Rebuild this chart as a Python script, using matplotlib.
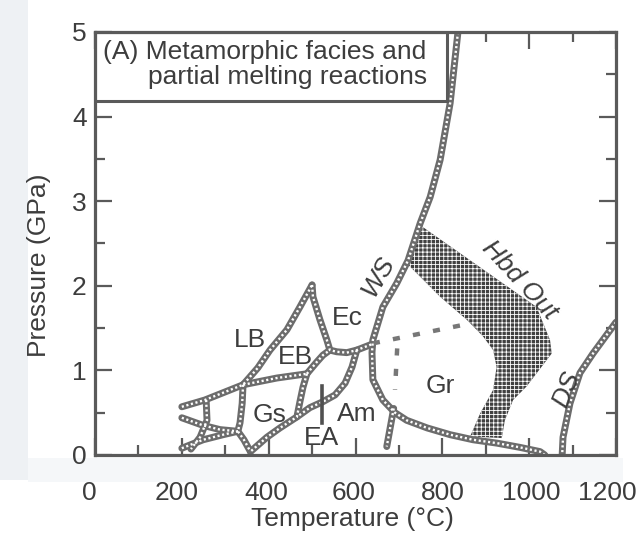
import numpy as np
import matplotlib
matplotlib.use('Agg')
import matplotlib.pyplot as plt
import matplotlib.transforms as mtransforms
from matplotlib.patches import Rectangle, Polygon

plt.rcParams['font.family'] = ['Liberation Sans', 'DejaVu Sans']

# reaction curves, temperature (°C) / pressure (GPa)
ws_t = [836, 818, 795, 772, 749, 721, 695, 663, 640, 638, 640, 663, 691, 718, 765, 818, 871, 926, 979, 1025, 1036]
ws_p = [5.0, 4.16, 3.49, 3.05, 2.74, 2.30, 2.03, 1.75, 1.36, 1.21, 0.89, 0.65, 0.50, 0.41, 0.32, 0.24, 0.18, 0.14, 0.09, 0.04, 0.0]

ws_tail_t = [688, 672]
ws_tail_p = [0.55, 0.10]

ds_t = [1200, 1147, 1117, 1094, 1078, 1076]
ds_p = [1.57, 1.20, 0.97, 0.61, 0.21, 0.0]

lb_t = [200, 253, 341, 375, 403, 442, 472, 500]
lb_p = [0.57, 0.65, 0.83, 1.03, 1.24, 1.48, 1.75, 2.01]

ec_t = [500, 502, 518, 534, 541, 557, 580, 603, 638]
ec_p = [2.01, 1.87, 1.60, 1.36, 1.24, 1.22, 1.21, 1.24, 1.31]

gs_top_t = [341, 419, 488]
gs_top_p = [0.83, 0.91, 0.96]

eb_t = [488, 511, 525, 541]
eb_p = [0.96, 1.10, 1.18, 1.24]

gs_right_t = [488, 479, 472, 465, 426, 396, 358]
gs_right_p = [0.96, 0.80, 0.63, 0.45, 0.32, 0.21, 0.04]

am_t = [603, 592, 576, 553, 525, 495, 465]
am_p = [1.24, 1.04, 0.85, 0.71, 0.63, 0.56, 0.45]

gs_left_t = [341, 339, 334, 329, 343, 358]
gs_left_p = [0.83, 0.61, 0.38, 0.28, 0.18, 0.04]

low1_t = [200, 249, 288, 329]
low1_p = [0.44, 0.35, 0.30, 0.28]

low2_t = [200, 249, 295, 329]
low2_p = [0.08, 0.18, 0.24, 0.28]

low3_t = [256, 258, 242, 221]
low3_p = [0.65, 0.41, 0.21, 0.07]

# dashed boundaries inside the granulite field
dash_h_t = [640, 869]
dash_h_p = [1.32, 1.56]
dash_v_t = [696, 691]
dash_v_p = [1.26, 0.77]

# epidote-amphibolite bar
ea_t = [523, 523]
ea_p = [0.38, 0.81]

# hornblende-out band
hbd_t = [748, 1017, 1048, 1052, 994, 963, 944, 937, 864, 887, 917, 925, 917, 894, 856, 795, 725, 714, 721]
hbd_p = [2.72, 1.75, 1.36, 1.20, 0.81, 0.65, 0.41, 0.20, 0.22, 0.49, 0.77, 1.04, 1.24, 1.40, 1.60, 1.87, 2.23, 2.30, 2.30]

facies = ['LB', 'Ec', 'EB', 'Gs', 'EA', 'Am', 'Gr']
facies_t = [357, 580, 461, 403, 522, 603, 795]
facies_p = [1.36, 1.62, 1.16, 0.47, 0.20, 0.49, 0.81]

ink = '#3d3d3d'
frame = '#5a5a5a'
fs = 19

fig = plt.figure(figsize=(6.41, 5.35), dpi=100)
# faint scanner tint
fig.add_artist(Rectangle((0, 1 - 480 / 535), 28 / 641, 480 / 535, transform=fig.transFigure,
                         facecolor='#eef1f4', edgecolor='none', zorder=0))
fig.add_artist(Rectangle((28 / 641, 1 - 482 / 535), 595 / 641, 24 / 535, transform=fig.transFigure,
                         facecolor='#f5f7f9', edgecolor='none', zorder=0))

ax = fig.add_axes([95 / 641, 1 - 455 / 535, 521 / 641, 423 / 535])
ax.set_xlim(0, 1200)
ax.set_ylim(0, 5)
ax.patch.set_alpha(0)


def reaction(t, p):
    ax.plot(t, p, color='#6c6c6c', lw=5.0, solid_capstyle='round', solid_joinstyle='round', zorder=2)
    ax.plot(t, p, color='white', lw=1.7, ls=(0, (0.9, 1.1)), zorder=2.1)


plt.rcParams['hatch.linewidth'] = 0.6
ax.add_patch(Polygon(np.column_stack([hbd_t, hbd_p]), closed=True, facecolor='#404040',
                     edgecolor='white', hatch='++++', lw=0, zorder=1.8))

for t, p in [(ws_t, ws_p), (ws_tail_t, ws_tail_p), (ds_t, ds_p), (lb_t, lb_p), (ec_t, ec_p),
             (gs_top_t, gs_top_p), (eb_t, eb_p), (gs_right_t, gs_right_p), (am_t, am_p),
             (gs_left_t, gs_left_p), (low1_t, low1_p), (low2_t, low2_p), (low3_t, low3_p)]:
    reaction(t, p)

for t, p in [(dash_h_t, dash_h_p), (dash_v_t, dash_v_p)]:
    ax.plot(t, p, color='#777777', lw=3.2, ls=(0, (1.6, 3.0)), zorder=2)

ax.plot(ea_t, ea_p, color='#505050', lw=2.6, zorder=3)

for name, t, p in zip(facies, facies_t, facies_p):
    ax.text(t, p, name, fontsize=fs, color=ink, ha='center', va='center', zorder=5)

ax.text(652, 2.11, 'WS', fontsize=fs, color=ink, style='italic', rotation=60,
        ha='center', va='center', zorder=5)
ax.text(979, 2.07, 'Hbd Out', fontsize=fs, color=ink, style='italic', rotation=-47,
        ha='center', va='center', zorder=5)
ax.text(1086, 0.77, 'DS', fontsize=fs, color=ink, style='italic', rotation=68,
        ha='center', va='center', zorder=5)

# title box in the upper left corner
ax.add_patch(Rectangle((0, 4.18), 811, 0.82, facecolor='white', edgecolor=frame, lw=2.2, zorder=4))
ax.text(18, 4.76, '(A) Metamorphic facies and', fontsize=fs, color=ink, va='center', zorder=5)
ax.text(122, 4.47, 'partial melting reactions', fontsize=fs, color=ink, va='center', zorder=5)

ax.set_xticks(np.arange(0, 1201, 200))
ax.set_xticks(np.arange(100, 1200, 200), minor=True)
ax.set_yticks(np.arange(0, 6, 1))
ax.set_yticks(np.arange(0.5, 5, 1), minor=True)
ax.tick_params(which='both', direction='in', top=True, right=True, color=frame, width=1.6,
               labelcolor=ink, labelsize=fs)
ax.tick_params(which='major', length=12)
ax.tick_params(which='minor', length=7.5)
ax.tick_params(axis='x', pad=19)
ax.tick_params(axis='y', pad=6)

# nudge the end labels so they sit inside the page
shifts = [-6, -5, -2, -2, 0, 2, -9]
for lab, dx in zip(ax.get_xticklabels(), shifts):
    lab.set_transform(lab.get_transform() + mtransforms.ScaledTranslation(dx / 100, 0, fig.dpi_scale_trans))

for s in ax.spines.values():
    s.set_color(frame)
    s.set_linewidth(2.3)
    s.set_zorder(6)

ax.set_xlabel('Temperature (°C)', fontsize=fs, color=ink)
ax.set_ylabel('Pressure (GPa)', fontsize=fs, color=ink)
ax.xaxis.set_label_coords(0.495, -0.122)
ax.yaxis.set_label_coords(-0.085, 0.449)

fig.savefig('out.png', dpi=100)
